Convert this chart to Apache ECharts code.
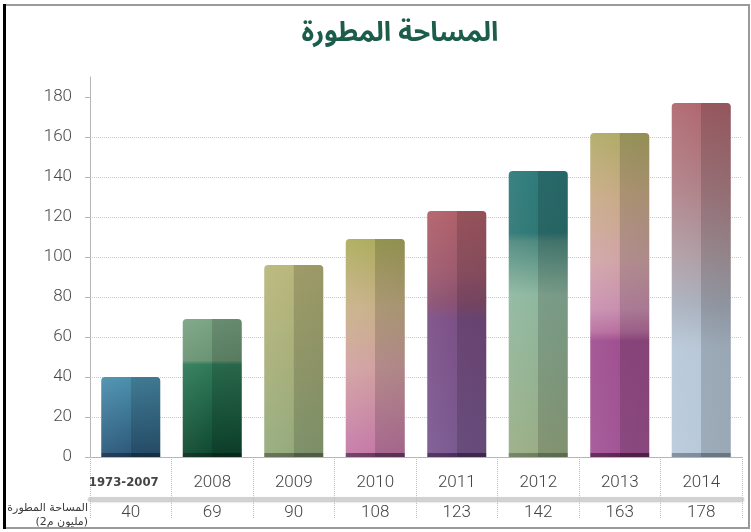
<!DOCTYPE html>
<html>
<head>
<meta charset="utf-8">
<script src="https://cdn.jsdelivr.net/npm/echarts@6/dist/echarts.min.js"></script>
<style>
html,body{margin:0;padding:0;background:#fff;}
#chart{width:751px;height:532px;}
</style>
</head>
<body>
<div id="chart"></div>
<script>
// ---- data ----
const categories = ['1973-2007','2008','2009','2010','2011','2012','2013','2014'];
const barValues = [40, 69, 96, 109, 123, 143, 162, 177];
const tableValues = ['40','69','90','108','123','142','163','178'];
const yTicks = [0, 20, 40, 60, 80, 100, 120, 140, 160, 180];
const titleText = 'المساحة المطورة';
const rowLabel = 'المساحة المطورة\n(مليون م2)';

// ---- styles (top -> bottom colour stops of each bar) ----
const barStops = [
  [[0,'#4c90ae'],[1,'#2c5a7b']],
  [[0,'#7aa583'],[0.31,'#6a9473'],[0.34,'#2f7b59'],[1,'#0f4a31']],
  [[0,'#bab77a'],[0.5,'#a9b07a'],[1,'#95ab7d']],
  [[0,'#adad5e'],[0.32,'#c9b28a'],[0.6,'#d2a2a2'],[1,'#c57aa8']],
  [[0,'#b1616a'],[0.25,'#9e5a6e'],[0.38,'#8a5172'],[0.45,'#7c5087'],[1,'#7a5a92']],
  [[0,'#2f7b7b'],[0.22,'#2e7876'],[0.25,'#4f8a80'],[0.44,'#8fb8a0'],[1,'#9aae86']],
  [[0,'#b1ab68'],[0.2,'#c9ab88'],[0.4,'#d1a5a8'],[0.55,'#c990b0'],[0.62,'#b870a0'],[0.65,'#a05090'],[1,'#a25696']],
  [[0,'#b0676f'],[0.25,'#b0838a'],[0.45,'#b0a0a8'],[0.58,'#aab2bf'],[0.7,'#b8c8d8'],[1,'#b9cada']]
];
const stripColors = ['#1b3651','#0b3020','#5f6e52','#6b3b62','#4c2e5a','#6e7f60','#5e2656','#7d8c9c'];

function barColor(i){
  const f = 2 / barValues[i];
  const stops = barStops[i].map(s => ({offset: s[0]*(1-f), color: s[1]}));
  stops.push({offset: 1-f, color: stripColors[i]});
  stops.push({offset: 1, color: stripColors[i]});
  return new echarts.graphic.LinearGradient(0,0,0,1, stops);
}

const chart = echarts.init(document.getElementById('chart'), null, {renderer:'canvas'});
const option = {
  animation: false,
  backgroundColor: '#fff',
  grid: {left: 90, right: 9, top: 77, bottom: 75, outerBoundsMode: 'none'},
  graphic: [
    {type:'rect', shape:{x:5, y:5, width:744, height:523}, style:{fill:'none', stroke:'#9a9a9a', lineWidth:2}, z:100},
    {type:'line', shape:{x1:4.5, y1:4, x2:4.5, y2:529}, style:{stroke:'#000', lineWidth:3}, z:101},
    {type:'text', x:400, y:37, style:{text:titleText, textAlign:'center', textVerticalAlign:'middle',
      fontSize:27, fontWeight:'bold', fill:'#1b5c4b', fontFamily:'"Noto Sans Arabic","DejaVu Sans",sans-serif'}},
    {type:'text', x:88, y:515, style:{text:rowLabel, textAlign:'right', textVerticalAlign:'middle',
      fontSize:11, lineHeight:14, fill:'#3a3a3a', fontFamily:'"DejaVu Sans",sans-serif'}}
  ],
  xAxis: [
    {
      type:'category', data: categories, position:'bottom',
      axisLine:{show:true, lineStyle:{color:'#b5b5b5', width:1}},
      axisTick:{show:true, length:62, interval:0, lineStyle:{color:'#bdbdbd', type:'dotted'}},
      axisLabel:{
        margin:17, interval:0, fontSize:17, color:'#444', fontFamily:'Roboto', fontWeight:300,
        formatter:(v,i)=> i===0 ? '{b|'+v+'}' : v,
        rich:{b:{fontFamily:'"DejaVu Sans Condensed","DejaVu Sans"', fontWeight:'bold', fontSize:13, color:'#454545', padding:[2,14,0,0]}}
      }
    },
    {
      type:'category', data: tableValues, position:'bottom', offset:42,
      axisLine:{show:true, lineStyle:{color:'#d2d2d2', width:4, shadowColor:'rgba(0,0,0,0.25)', shadowBlur:2, shadowOffsetY:1}},
      axisTick:{show:false},
      axisLabel:{margin:5, interval:0, fontSize:17, color:'#444', fontFamily:'Roboto', fontWeight:300}
    }
  ],
  yAxis: {
    type:'value', min:0, max:190, interval:20,
    axisLine:{show:true, lineStyle:{color:'#b5b5b5'}},
    axisTick:{show:true, length:5, customValues: yTicks, lineStyle:{color:'#b5b5b5'}},
    axisLabel:{margin:18, fontSize:17, color:'#4a4a4a', fontFamily:'Roboto', fontWeight:300, customValues: yTicks},
    splitLine:{show:true, showMaxLine:false, lineStyle:{color:'#c8c8c8', type:'dotted'}}
  },
  series: [
    {
      type:'bar', xAxisIndex:0, barWidth:59,
      data: barValues.map((v,i)=>({value:v, itemStyle:{color:barColor(i), borderRadius:[4,4,0,0]}}))
    },
    {
      type:'bar', xAxisIndex:0, barWidth:59, barGap:'-100%', silent:true,
      itemStyle:{borderRadius:[4,4,0,0], color:new echarts.graphic.LinearGradient(0,0,1,0,[
        {offset:0, color:'rgba(255,255,255,0.06)'},
        {offset:0.49, color:'rgba(255,255,255,0)'},
        {offset:0.5, color:'rgba(0,0,0,0.15)'},
        {offset:1, color:'rgba(0,0,0,0.17)'}
      ])},
      data: barValues
    }
  ]
};
chart.setOption(option);
</script>
</body>
</html>
